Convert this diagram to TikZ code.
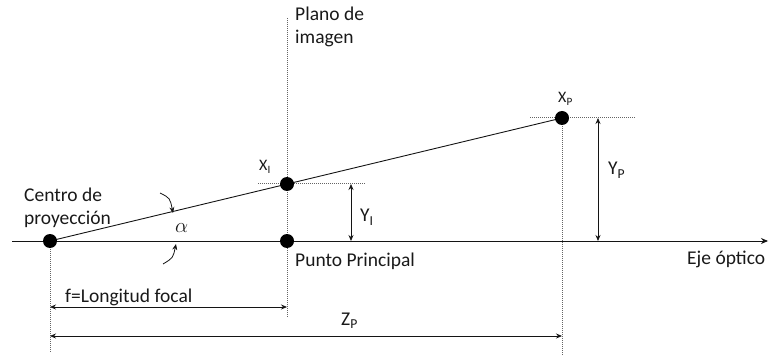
\documentclass[tikz,border=0pt]{standalone}
\usepackage{fontspec}
\setmainfont{Carlito}
\usepackage{tikz}
\usetikzlibrary{arrows.meta}
\definecolor{inkline} {RGB}{20, 20, 20}
\definecolor{guide}   {RGB}{100,100,100}
\definecolor{labeltxt}{RGB}{25, 25, 25}

\tikzset{
  ptdot/.style={circle, fill=black, inner sep=0pt, minimum size=14pt},
  guideline/.style={guide, line width=1pt, dash pattern=on 1pt off 1pt},
  dimline/.style={inkline, line width=0.8pt,
    {Stealth[length=6pt,width=5pt]}-{Stealth[length=6pt,width=5pt]}},
  txt/.style={labeltxt, font=\fontsize{19.5}{24}\selectfont, inner sep=0pt},
  smalltxt/.style={labeltxt, font=\fontsize{16}{19}\selectfont, inner sep=0pt},
}

\begin{document}
\begin{tikzpicture}[x=1pt, y=-1pt]
  \useasboundingbox (0,0) rectangle (770,355);
  % geometria
  \coordinate (C)   at (50,241);
  \coordinate (PP)  at (287,241);
  \coordinate (XI)  at (287,184);
  \coordinate (XP)  at (562,118);
  \coordinate (axL) at (12,241);
  \coordinate (axR) at (768,241);

  % lineas guia
  \draw[guideline] (287,18) -- (287,318);
  \draw[guideline] (C) -- (50,352);
  \draw[guideline] (XP) -- (562,355);
  \draw[guideline] (258,184) -- (365,184);
  \draw[guideline] (530,118) -- (636,118);

  % eje optico y rayo
  \draw[inkline, line width=0.9pt, -{Stealth[length=7pt,width=6pt]}] (axL) -- (axR);
  \draw[inkline, line width=0.9pt] (C) -- (XP);

  % cotas
  \draw[dimline] (351,184) -- (351,241);
  \draw[dimline] (598,118) -- (598,241);
  \draw[dimline] (50,307) -- (287,307);
  \draw[dimline] (50,336) -- (562,336);

  % angulo
  \draw[inkline, line width=0.8pt, -{Stealth[length=6pt,width=5pt]}]
       (160,193) .. controls (170,198) .. (173,213);
  \draw[inkline, line width=0.8pt, -{Stealth[length=6pt,width=5pt]}]
       (163,264) .. controls (173,258) .. (176,244);

  % puntos
  \node[ptdot] (dC)  at (C)  {};
  \node[ptdot] (dPP) at (PP) {};
  \node[ptdot] (dXI) at (XI) {};
  \node[ptdot] (dXP) at (XP) {};

  % textos
  \node[txt, anchor=base west, align=left] (centro) at (24,225)
       {Centro de\\[-1pt]proyecci\'on};
  \node[txt, anchor=base west, align=left] (plano) at (295,44)
       {Plano de\\[-1pt]imagen};
  \node[txt, anchor=base west] (punto) at (295,266) {Punto Principal};
  \node[txt, anchor=base west] (eje) at (687,264) {Eje \'optico};
  \node[txt, anchor=base west] (focal) at (65,302) {f=Longitud focal};
  \node[smalltxt, anchor=base west] (lXI) at (259,171) {X\textsubscript{I}};
  \node[smalltxt, anchor=base west] (lXP) at (558,103) {X\textsubscript{P}};
  \node[txt, anchor=base west] (lYI) at (360,222) {Y\textsubscript{I}};
  \node[txt, anchor=base west] (lYP) at (608,175) {Y\textsubscript{P}};
  \node[txt, anchor=base west] (lZP) at (341,325) {Z\textsubscript{P}};
  \node[txt, anchor=base west] (alfa) at (175,233) {$\alpha$};
\end{tikzpicture}
\end{document}
